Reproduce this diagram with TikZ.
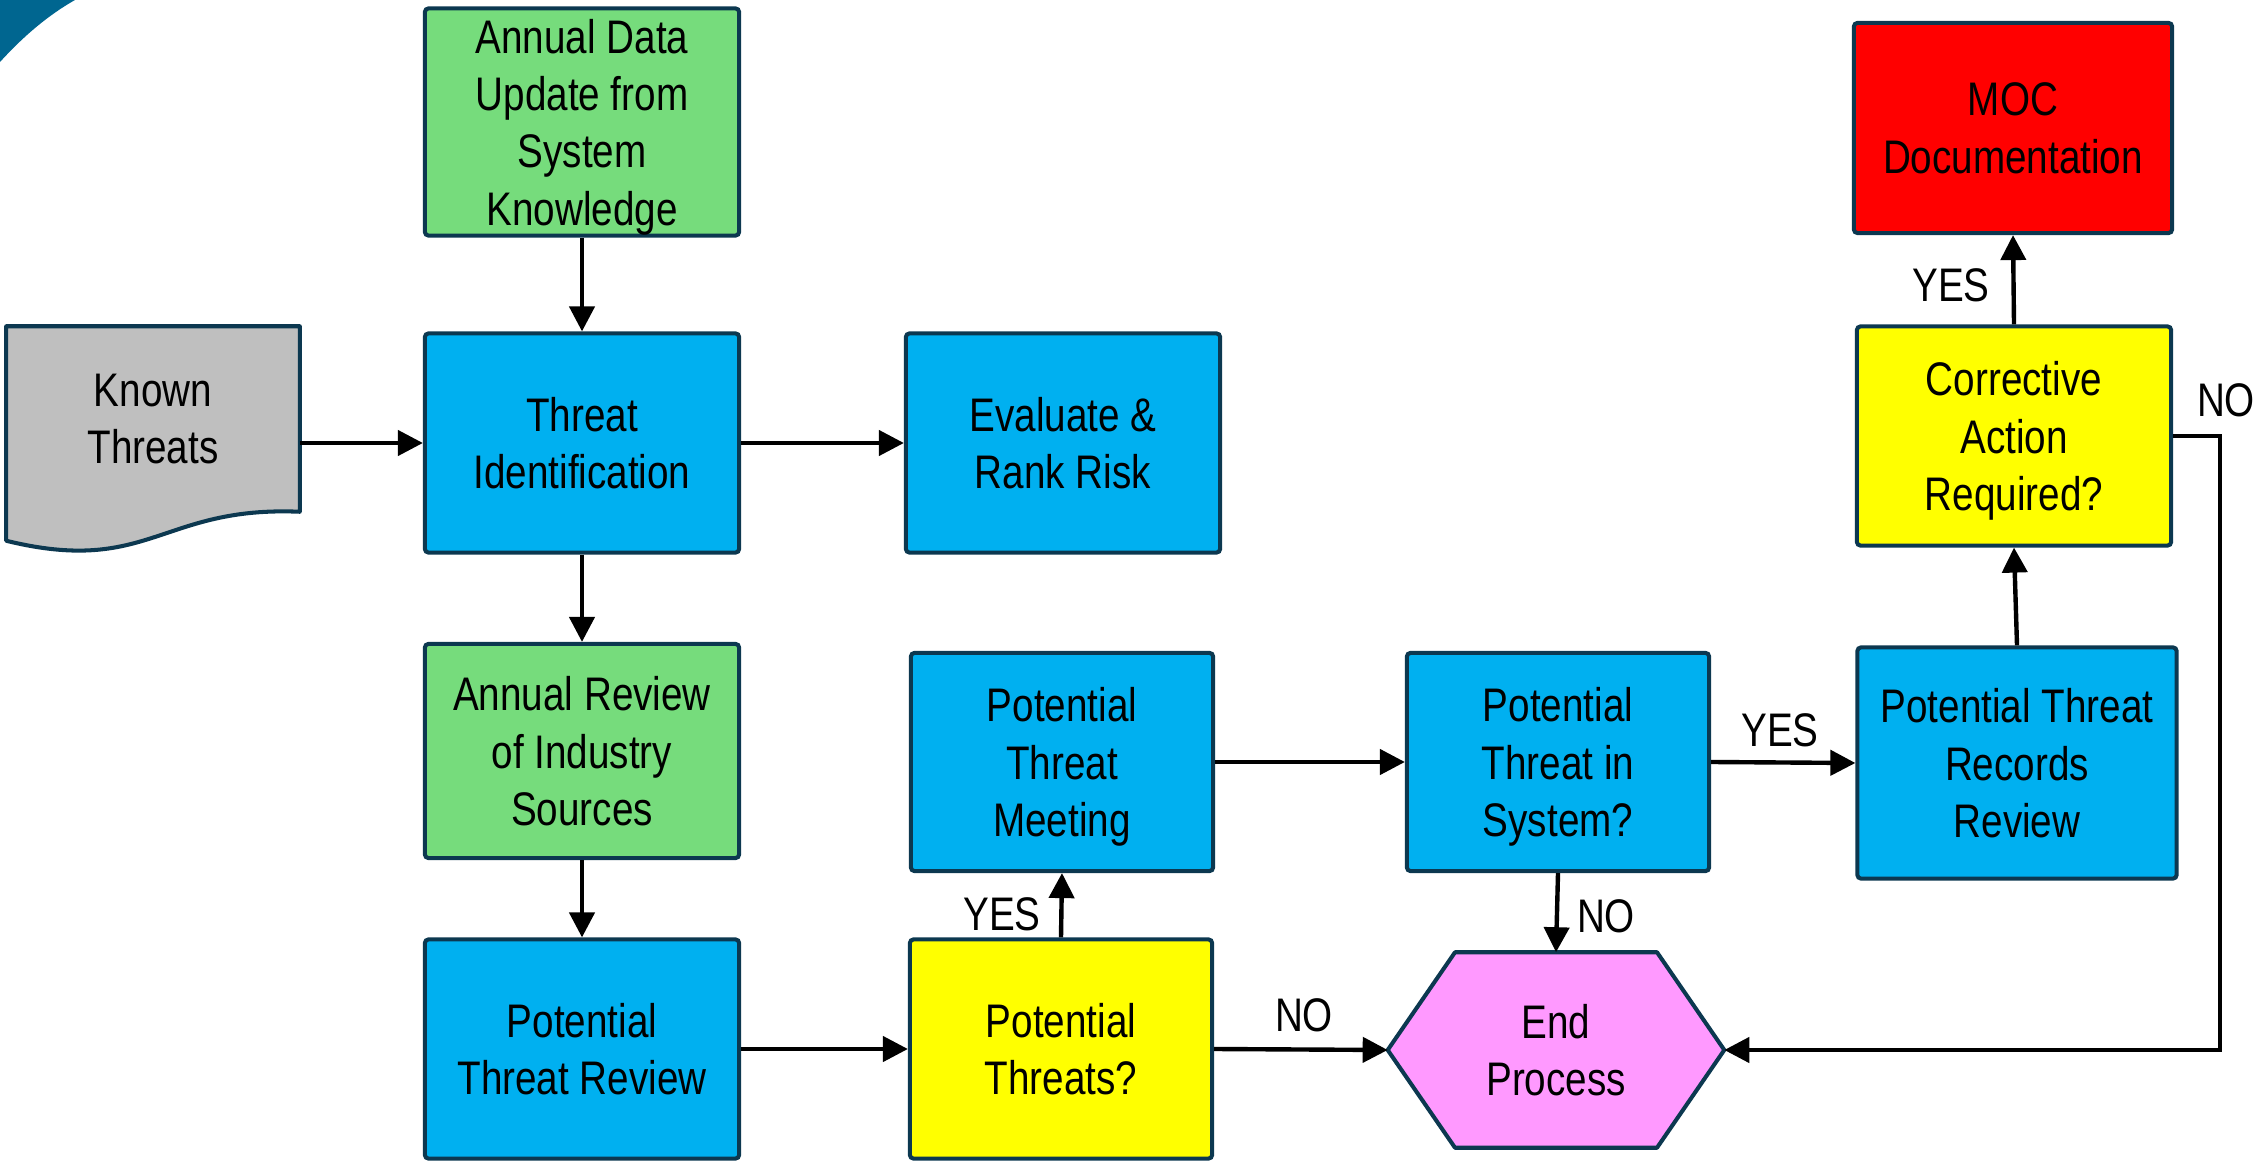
\documentclass[tikz,border=0pt]{standalone}
\usepackage{fontspec}
\setmainfont[FakeStretch=0.82]{Liberation Sans}
\usetikzlibrary{arrows.meta,calc,backgrounds}

\definecolor{edgeblue}{RGB}{12,56,80}
\definecolor{boxgreen}{RGB}{118,220,124}
\definecolor{boxblue}{RGB}{0,176,240}
\definecolor{boxyellow}{RGB}{255,255,0}
\definecolor{boxred}{RGB}{255,0,0}
\definecolor{boxpink}{RGB}{255,153,255}
\definecolor{boxgray}{RGB}{191,191,191}
\definecolor{cornerteal}{RGB}{0,102,144}

\newcommand{\flowfont}{\fontsize{13.4pt}{16.3pt}\selectfont}

\tikzset{
  box/.style={draw=edgeblue, line width=1.15pt, rounded corners=1pt,
    minimum width=3.14cm, minimum height=2.19cm, align=center,
    inner sep=0pt, text depth=0pt, font=\flowfont, text=black},
  greenbox/.style={box, fill=boxgreen},
  bluebox/.style={box, fill=boxblue},
  yellowbox/.style={box, fill=boxyellow},
  redbox/.style={box, fill=boxred},
  ghost/.style={draw=none, fill=none, align=center, inner sep=0pt,
    text depth=0pt, font=\flowfont, text=black},
  outline/.style={draw=edgeblue, line width=1.15pt, line join=round},
  flow/.style={draw=black, line width=1.25pt,
    -{Triangle[length=0.25cm,width=0.25cm]}},
  lbl/.style={font=\flowfont, text=black, inner sep=0pt}
}

\begin{document}
\begin{tikzpicture}[x=0.01cm, y=-0.01cm]
\useasboundingbox (0,0) rectangle (2254,1161);

% corner decoration
\fill[cornerteal] (0,0) -- (75,0) .. controls (45,17) and (20,40) .. (0,62) -- cycle;

% process boxes
\node[greenbox, minimum height=2.27cm] (annual) at (582,122)
  {Annual Data\\Update from\\System\\Knowledge};
\node[ghost, minimum width=2.92cm, minimum height=1.84cm] (known) at (153,419)
  {Known\\Threats};
\node[bluebox] (tid) at (582,443) {Threat\\Identification};
\node[bluebox] (evalr) at (1063,443) {Evaluate \&\\Rank Risk};
\node[greenbox, minimum height=2.14cm] (review) at (582,751)
  {Annual Review\\of Industry\\Sources};
\node[bluebox] (ptr) at (582,1049) {Potential\\Threat Review};
\node[yellowbox, minimum width=3.02cm] (pq) at (1061,1049)
  {Potential\\Threats?};
\node[bluebox, minimum width=3.02cm, minimum height=2.18cm] (meet) at (1062,762)
  {Potential\\Threat\\Meeting};
\node[bluebox, minimum width=3.02cm, minimum height=2.18cm] (sys) at (1558,762)
  {Potential\\Threat in\\System?};
\node[ghost, minimum width=3.35cm, minimum height=1.94cm] (endp) at (1556,1050)
  {End\\Process};
\node[bluebox, minimum width=3.19cm, minimum height=2.31cm] (rec) at (2017,763)
  {Potential Threat\\Records\\Review};
\node[yellowbox] (corr) at (2014,436) {Corrective\\Action\\Required?};
\node[redbox, minimum width=3.18cm, minimum height=2.10cm] (moc) at (2013,128)
  {MOC\\Documentation};

% document and terminal outlines behind their texts
\begin{scope}[on background layer]
  \filldraw[outline, fill=boxgray] (known.north west) -- (known.north east)
    -- (known.south east) .. controls +(-139,-6) and +(143,35) ..
    ($(known.south west)+(0,29)$) -- cycle;
  \filldraw[outline, fill=boxpink] (endp.west)
    -- ($(endp.north west)!0.2!(endp.north east)$)
    -- ($(endp.north west)!0.8!(endp.north east)$)
    -- (endp.east)
    -- ($(endp.south west)!0.8!(endp.south east)$)
    -- ($(endp.south west)!0.2!(endp.south east)$) -- cycle;
\end{scope}

% connectors
\draw[flow] (annual.south) -- (tid.north);
\draw[flow] (known.east |- tid.west) -- (tid.west);
\draw[flow] (tid.east) -- (evalr.west);
\draw[flow] (tid.south) -- (review.north);
\draw[flow] (review.south) -- (ptr.north);
\draw[flow] (ptr.east) -- (pq.west);
\draw[flow] (pq.north) -- (meet.south);
\draw[flow] (meet.east) -- (sys.west);
\draw[flow] (sys.south) -- (endp.north);
\draw[flow] (sys.east) -- (rec.west);
\draw[flow] (pq.east) -- (endp.west);
\draw[flow] (rec.north) -- (corr.south);
\draw[flow] (corr.north) -- (moc.south);
\draw[flow] (corr.east) -- ++(47,0) |- (endp.east);

% decision labels
\node[lbl] (yes1) at (1002,914) {YES};
\node[lbl] (no1) at (1304,1015) {NO};
\node[lbl] (no2) at (1606,916) {NO};
\node[lbl] (yes2) at (1780,730) {YES};
\node[lbl] (yes3) at (1951,285) {YES};
\node[lbl] (no3) at (2226,400) {NO};
\end{tikzpicture}
\end{document}
